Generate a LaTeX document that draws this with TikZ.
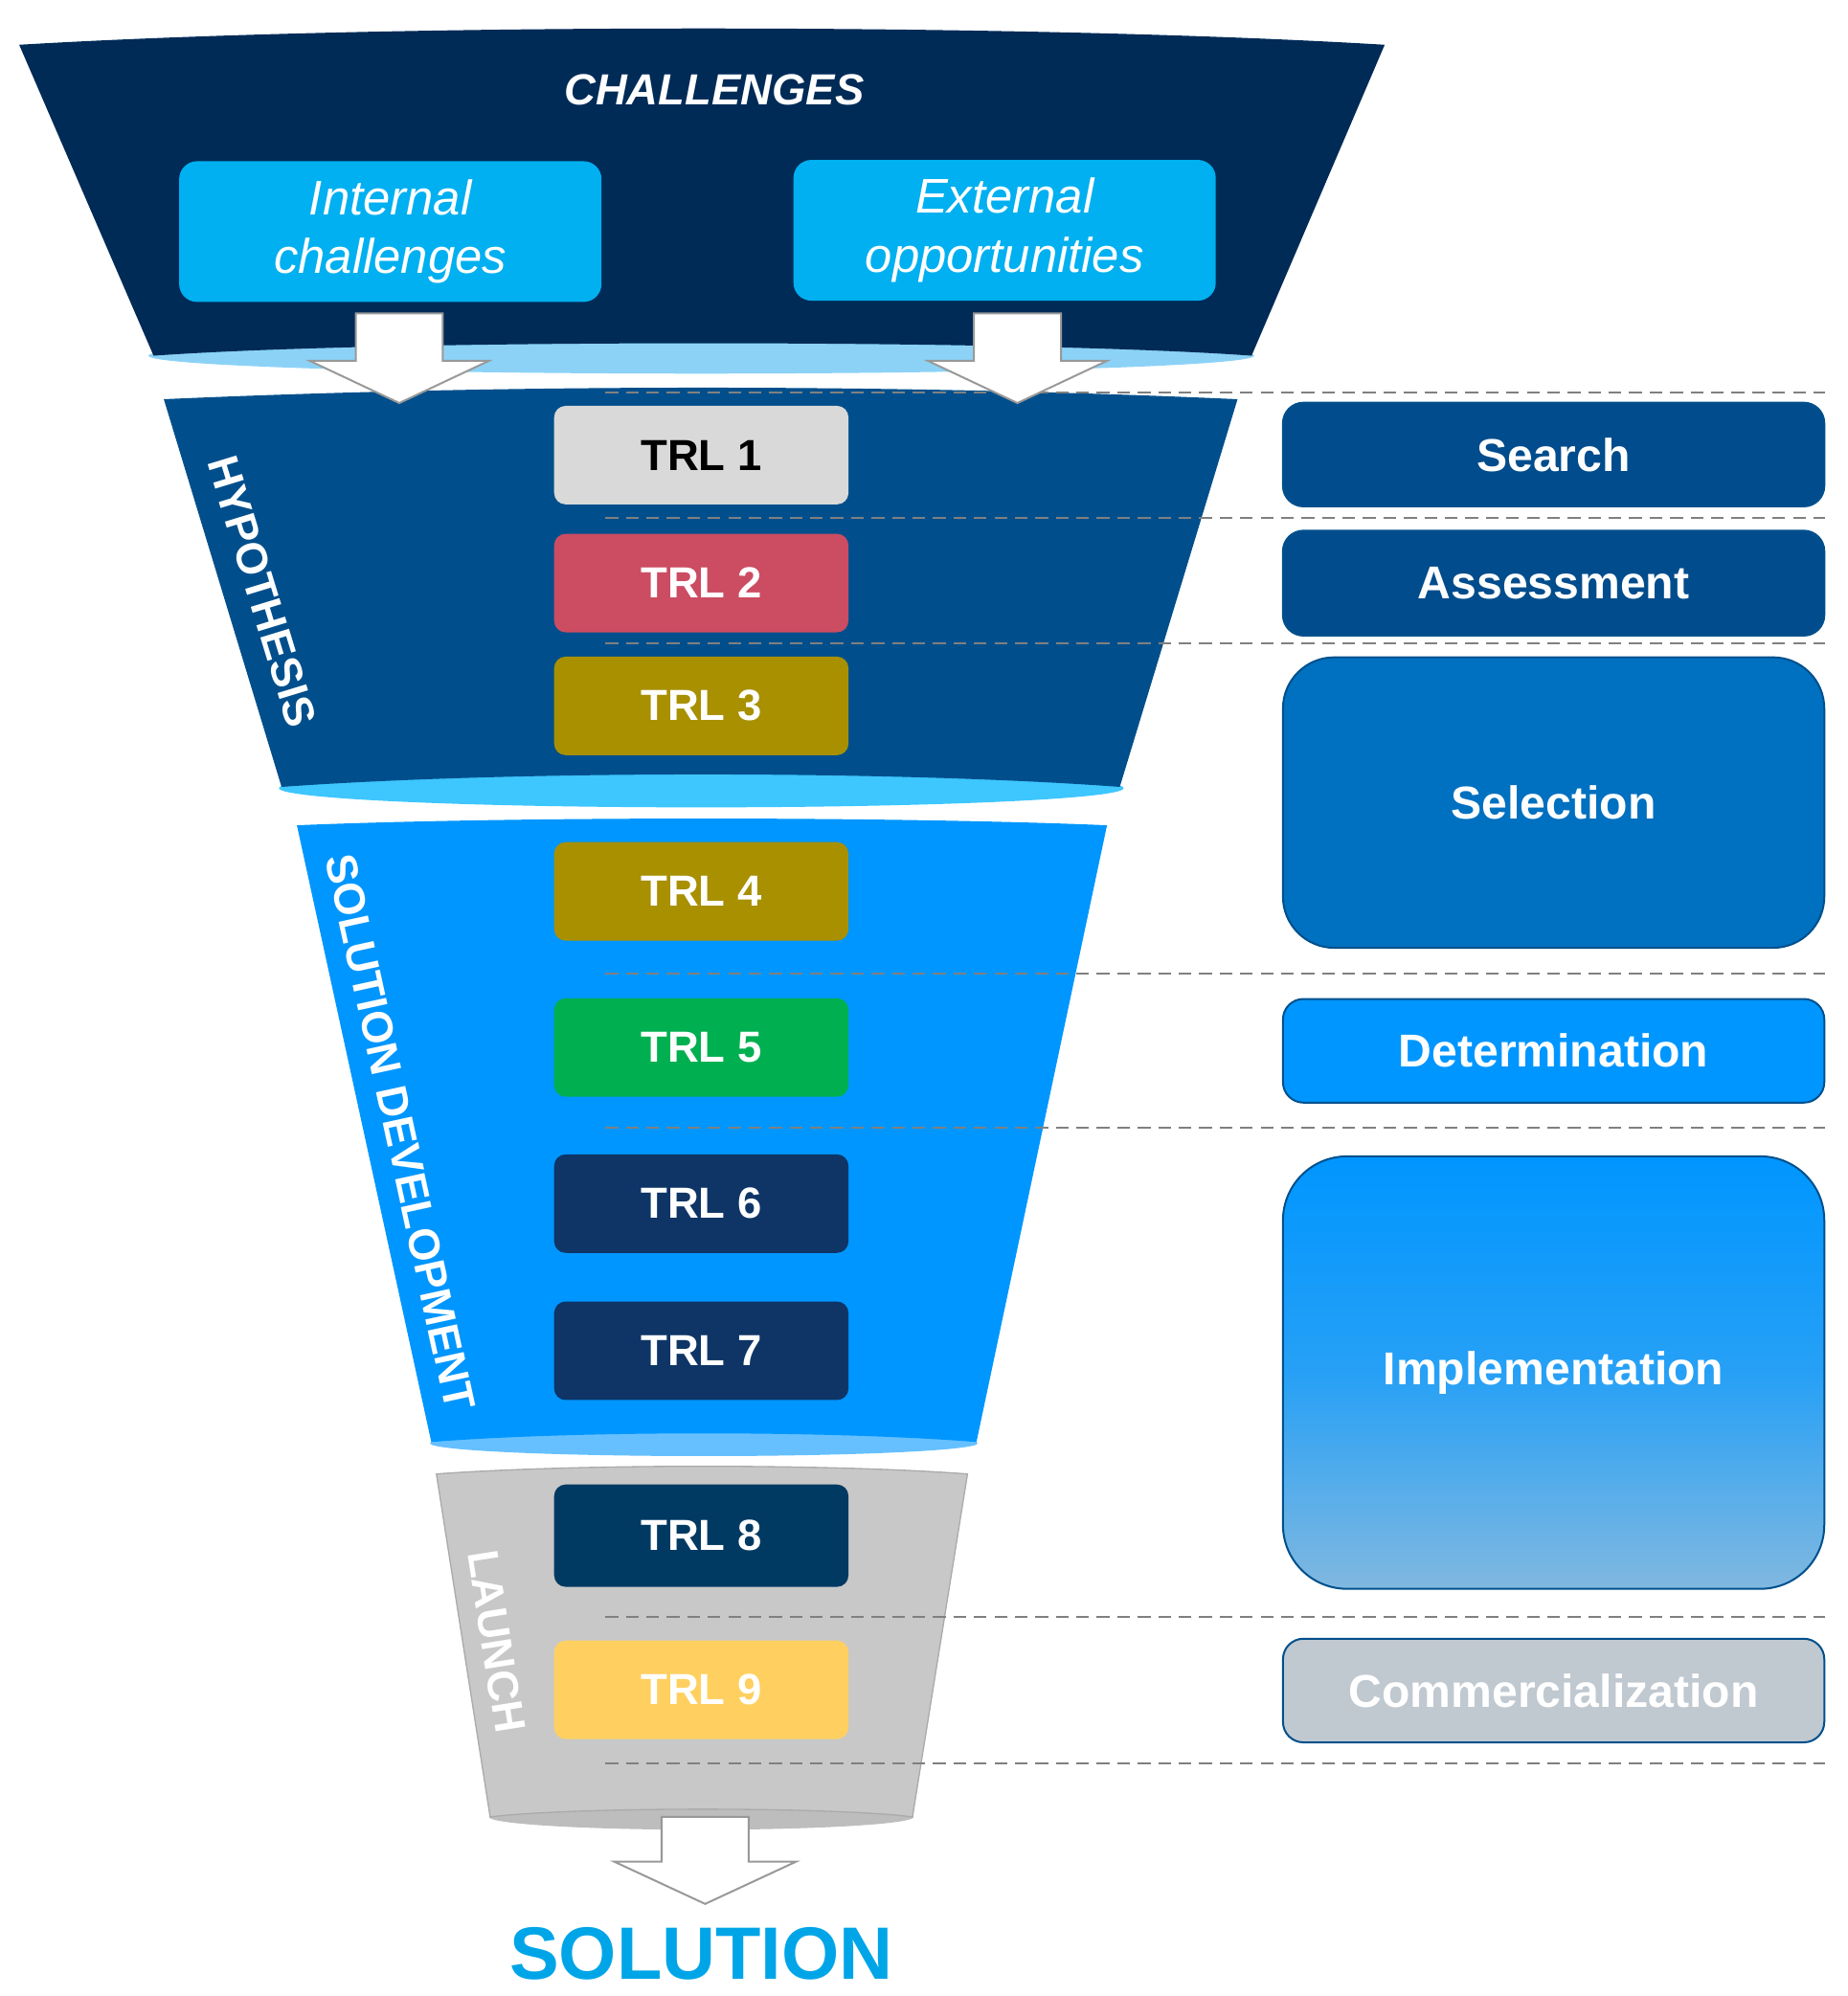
\documentclass[tikz,border=0pt]{standalone}
\usepackage{fontspec}
\setmainfont{Liberation Sans}
\usetikzlibrary{shapes.geometric}
\definecolor{navy}{RGB}{0,43,87}
\definecolor{hyp}{RGB}{0,79,140}
\definecolor{soldev}{RGB}{0,150,255}
\definecolor{cyanbox}{RGB}{0,176,240}
\definecolor{lightrim}{RGB}{140,210,247}
\definecolor{hyprim}{RGB}{62,198,255}
\definecolor{launchg}{RGB}{200,200,200}
\definecolor{trlgray}{RGB}{217,217,217}
\definecolor{trlred}{RGB}{204,76,98}
\definecolor{trlgold}{RGB}{168,144,0}
\definecolor{trlgreen}{RGB}{0,176,80}
\definecolor{trlnavy}{RGB}{14,53,102}
\definecolor{trlnavy8}{RGB}{0,58,99}
\definecolor{trlyel}{RGB}{255,208,96}
\definecolor{rsearch}{RGB}{0,76,140}
\definecolor{rsel}{RGB}{0,112,192}
\definecolor{rdet}{RGB}{0,150,255}
\definecolor{rimpb}{RGB}{128,184,224}
\definecolor{rcom}{RGB}{192,200,208}
\definecolor{solc}{RGB}{0,165,232}
\definecolor{rborder}{RGB}{0,80,140}
\tikzset{
 trl/.style={rounded corners=9pt,minimum width=230pt,minimum height=77pt,anchor=north,font=\fontsize{34}{40}\selectfont\bfseries,text=white},
 rbox/.style={draw=rborder,line width=1.5pt,rounded corners=16pt,minimum width=423pt,anchor=north,font=\fontsize{36}{42}\selectfont\bfseries,text=white},
 cbox/.style={fill=cyanbox,rounded corners=14pt,minimum width=330pt,minimum height=110pt,align=center,text=white,font=\fontsize{38}{46}\selectfont\itshape},
 sepline/.style={gray,line width=1.5pt,dash pattern=on 10pt off 6pt},
 wArrow/.style={fill=white,draw=gray!80,line width=1.5pt},
 side/.style={text=white,font=\fontsize{34}{40}\selectfont\bfseries}
}
\begin{document}
\begin{tikzpicture}[x=1pt,y=-1pt]
\useasboundingbox (0,0) rectangle (1444,1560);
% challenges funnel
\fill[lightrim] (548,278) ellipse (432 and 14);
\fill[navy] (15,35) .. controls (300,18) and (800,18) .. (1082,35) -- (978,278) .. controls (800,265) and (300,265) .. (120,278) -- cycle;
\node[font=\fontsize{34}{40}\selectfont\bfseries\itshape,text=white] (ch) at (558,70) {CHALLENGES};
\node[cbox] (ic) at (305,181) {Internal\\challenges};
\node[cbox] (eo) at (785,180) {External\\opportunities};
% hypothesis
\fill[hyprim] (548,616) ellipse (330 and 15);
\fill[hyp] (128,312) .. controls (400,300) and (700,300) .. (967,312) -- (875,615) .. controls (700,602) and (400,602) .. (220,615) -- cycle;
\node[side,rotate=-73] (hl) at (205,462) {HYPOTHESIS};
% solution development
\fill[soldev!60!white] (550,1128) ellipse (214 and 10);
\fill[soldev] (232,645) .. controls (400,638) and (700,638) .. (865,645) -- (763,1127) .. controls (650,1118) and (450,1118) .. (337,1127) -- cycle;
\node[side,rotate=-77.7] (sd) at (313,885) {SOLUTION DEVELOPMENT};
% launch
\fill[launchg!85!gray] (548,1420) ellipse (166 and 10);
\draw[launchg!60!gray,line width=1pt,fill=launchg] (341,1152) .. controls (450,1144) and (650,1144) .. (756,1152) -- (713,1420) .. controls (650,1412) and (450,1412) .. (383,1420) -- cycle;
\node[side,rotate=-81] (ll) at (388,1283) {LAUNCH};
% dashed lines
\foreach \y in {307,405,503,761,881,1264,1378}{\draw[sepline] (473,\y) -- (1426,\y);}
% arrows from top
\foreach \cx in {312,795}{
 \draw[wArrow] (\cx-34,245) -- (\cx+34,245) -- (\cx+34,282) -- (\cx+70,282) -- (\cx,315) -- (\cx-70,282) -- (\cx-34,282) -- cycle;}
% bottom arrow
\draw[wArrow] (517,1420) -- (585,1420) -- (585,1455) -- (622,1455) -- (551,1488) -- (480,1455) -- (517,1455) -- cycle;
\node[font=\fontsize{58}{64}\selectfont\bfseries,text=solc] (sol) at (548,1527) {SOLUTION};
% TRL boxes
\node[trl,fill=trlgray,text=black] (t1) at (548,317) {TRL 1};
\node[trl,fill=trlred] (t2) at (548,417) {TRL 2};
\node[trl,fill=trlgold] (t3) at (548,513) {TRL 3};
\node[trl,fill=trlgold] (t4) at (548,658) {TRL 4};
\node[trl,fill=trlgreen] (t5) at (548,780) {TRL 5};
\node[trl,fill=trlnavy] (t6) at (548,902) {TRL 6};
\node[trl,fill=trlnavy] (t7) at (548,1017) {TRL 7};
\node[trl,fill=trlnavy8,minimum height=80pt] (t8) at (548,1160) {TRL 8};
\node[trl,fill=trlyel] (t9) at (548,1282) {TRL 9};
% right boxes
\node[rbox,fill=rsearch,minimum height=81pt] (r1) at (1214,314) {Search};
\node[rbox,fill=rsearch,minimum height=82pt] (r2) at (1214,414) {Assessment};
\node[rbox,fill=rsel,minimum height=227pt,rounded corners=40pt] (r3) at (1214,513) {Selection};
\node[rbox,fill=rdet,minimum height=81pt] (r4) at (1214,780) {Determination};
\node[rbox,top color=rdet,bottom color=rimpb,middle color=rdet!70!rimpb,minimum height=338pt,rounded corners=50pt] (r5) at (1214,903) {Implementation};
\node[rbox,fill=rcom,minimum height=81pt] (r6) at (1214,1280) {Commercialization};
\end{tikzpicture}
\end{document}
